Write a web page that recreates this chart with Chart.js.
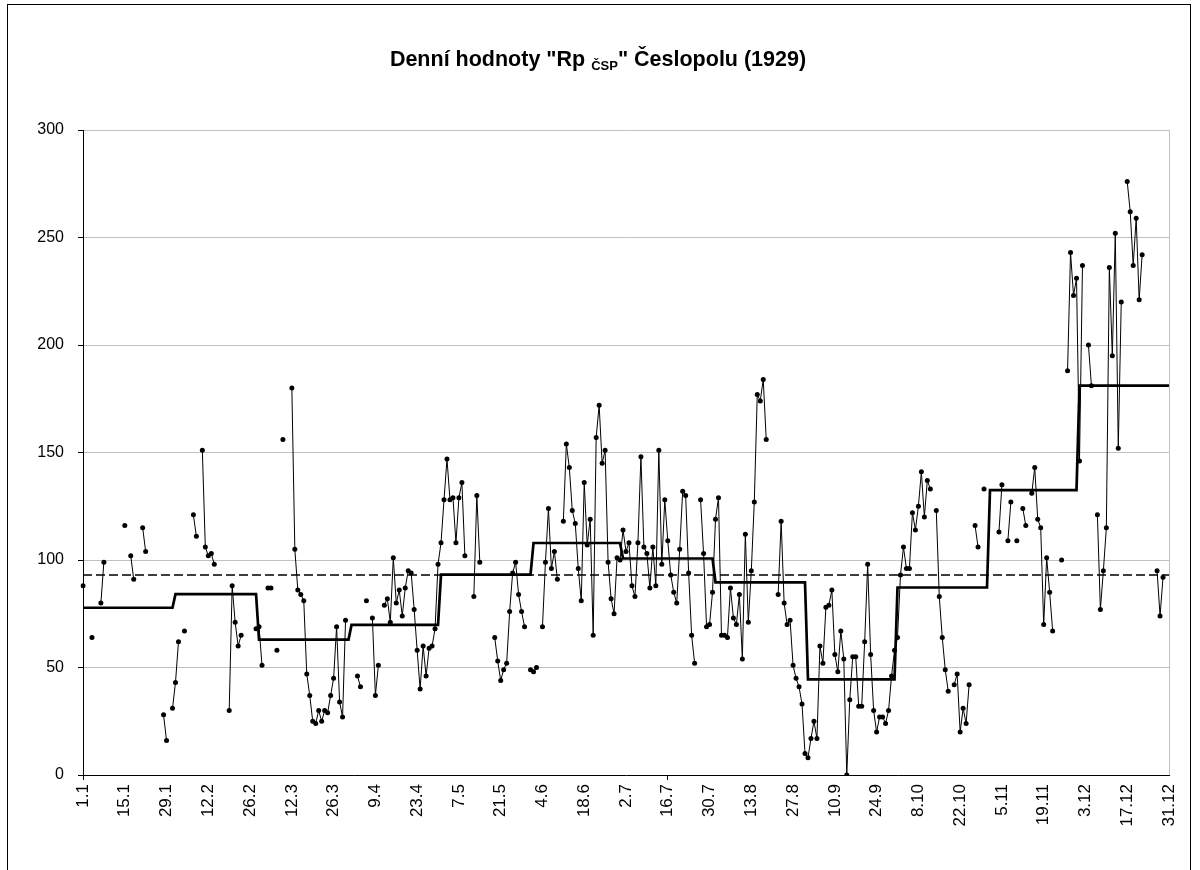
<!DOCTYPE html>
<html>
<head>
<meta charset="utf-8">
<script src="https://cdn.jsdelivr.net/npm/chart.js@4.4.1/dist/chart.umd.min.js"></script>
<style>
html,body{margin:0;padding:0;background:#fff;}
#wrap{position:absolute;left:0;top:0;width:1200px;height:870px;}
canvas{display:block;}
</style>
</head>
<body>
<div id="wrap"><canvas id="c" width="1200" height="870"></canvas></div>
<script>
// ---- data (1929, daily values, null = missing) ----
const monthLengths = [31,28,31,30,31,30,31,31,30,31,30,31];
const tickLabels = ['1.1','15.1','29.1','12.2','26.2','12.3','26.3','9.4','23.4','7.5','21.5','4.6','18.6','2.7','16.7','30.7','13.8','27.8','10.9','24.9','8.10','22.10','5.11','19.11','3.12','17.12','31.12'];
const titleParts = ['Denní hodnoty "Rp ', 'ČSP', '" Česlopolu (1929)'];

const jan = [88,null,null,64,null,null,80,99,null,null, null,null,null,null,116,null,102,91,null,null, 115,104,null,null,null,null,null,28,16,null, 31];
const feb = [43,62,null,67,null,null,121,111,null,151, 106,102,103,98,null,null,null,null,30,88, 71,60,65,null,null,null,null,68];
const mar = [69,51,null,87,87,null,58,null,156,null, null,180,105,86,84,81,47,37,25,24, 30,25,30,29,37,45,69,34,27,72, null];
const apr = [null,null,46,41,null,81,null,73,37,51, null,79,82,71,101,80,86,74,87,95, 94,77,58,40,60,46,59,60,68,98];
const may = [108,128,147,128,129,108,129,136,102,null, null,83,130,99,null,null,null,null,64,53, 44,49,52,76,94,99,84,76,69,null, 49];
const jun = [48,50,null,69,99,124,96,104,91,null, 118,154,143,123,117,96,81,136,107,119, 65,157,172,145,151,99,82,75,101,100];
const jul = [114,104,108,88,83,108,148,106,103,87, 106,88,151,98,128,109,93,85,80,105, 132,130,94,65,52,null,128,103,69,70, 85];
const aug = [119,129,65,65,64,87,73,70,84,54, 112,71,95,127,177,174,184,156,null,null, null,84,118,80,70,72,51,45,41,33, 10];
const sep = [8,17,25,17,60,52,78,79,86,56, 48,67,54,0,35,55,55,32,32,62, 98,56,30,20,27,27,24,30,46,58];
const oct = [64,93,106,96,96,122,114,125,141,120, 137,133,null,123,83,64,49,39,null,42, 47,20,31,24,42,null,116,106,null,133, null];
const nov = [null,null,null,113,135,null,109,127,null,109, null,124,116,null,131,143,119,115,70,101, 85,67,null,null,100,null,188,243,223,231];
const dec = [146,237,null,200,181,null,121,77,95,115, 236,195,252,152,220,null,276,262,237,259, 221,242,null,null,null,null,95,74,92,null, null];

const monthlyMeans = [77.8, 84.1, 63.0, 69.8, 93.2, 107.9, 100.7, 89.6, 44.5, 87.2, 132.5, 181.1];
const yearlyMean = 93;

// ---- tables built from the arrays above ----
const categories = [];
monthLengths.forEach((n, m) => { for (let d = 1; d <= n; d++) categories.push(d + '.' + (m + 1)); });
const daily = [].concat(jan, feb, mar, apr, may, jun, jul, aug, sep, oct, nov, dec);
const monthlyLine = [];
monthLengths.forEach((n, m) => { for (let d = 0; d < n; d++) monthlyLine.push(monthlyMeans[m]); });
const yearlyLine = categories.map(() => yearlyMean);

const FONT = '"Liberation Sans", Arial, sans-serif';

const titlePlugin = {
  id: 'titleSub',
  afterDraw(chart) {
    const ctx = chart.ctx;
    ctx.save();
    ctx.fillStyle = '#000';
    ctx.textBaseline = 'alphabetic';
    const big = 'bold 21.5px ' + FONT, small = 'bold 13px ' + FONT;
    const parts = [[titleParts[0], big, 0], [titleParts[1], small, 4], [titleParts[2], big, 0]];
    let w = 0;
    parts.forEach(p => { ctx.font = p[1]; w += ctx.measureText(p[0]).width; });
    let x = 598 - w / 2;
    const y = 66;
    parts.forEach(p => { ctx.font = p[1]; ctx.fillText(p[0], x, y + p[2]); x += ctx.measureText(p[0]).width; });
    ctx.restore();
  }
};

const framePlugin = {
  id: 'frame',
  afterDraw(chart) {
    const ctx = chart.ctx, a = chart.chartArea;
    ctx.save();
    ctx.strokeStyle = '#c0c0c0';
    ctx.lineWidth = 1;
    ctx.beginPath();
    ctx.moveTo(Math.round(a.right) + 0.5, a.top);
    ctx.lineTo(Math.round(a.right) + 0.5, a.bottom);
    ctx.stroke();
    ctx.strokeStyle = '#000';
    ctx.strokeRect(7.5, 4.5, 1183, 1000);
    ctx.restore();
  }
};

new Chart(document.getElementById('c'), {
  type: 'line',
  data: {
    labels: categories,
    datasets: [
      { label: 'denní hodnoty', data: daily, borderColor: '#000', backgroundColor: '#000',
        borderWidth: 1, pointRadius: 2.5, pointHoverRadius: 2.5, pointBorderWidth: 0, spanGaps: false, order: 0 },
      { label: 'měsíční průměr', data: monthlyLine, borderColor: '#000', borderWidth: 2.7,
        pointRadius: 0, order: 1 },
      { label: 'roční průměr', data: yearlyLine, borderColor: '#000', borderWidth: 1.4, borderDash: [9, 4],
        pointRadius: 0, order: 2 }
    ]
  },
  options: {
    responsive: false,
    animation: false,
    devicePixelRatio: 1,
    layout: { padding: { left: 0, right: 31, top: 130, bottom: 0 } },
    plugins: { legend: { display: false }, tooltip: { enabled: false }, title: { display: false } },
    elements: { line: { tension: 0 } },
    scales: {
      x: {
        type: 'category',
        offset: false,
        grid: { display: true, drawOnChartArea: false, drawTicks: true, tickLength: 5,
                color: (c) => (c.index % 14 === 0 ? '#000' : 'rgba(0,0,0,0)'), lineWidth: 1 },
        border: { display: true, color: '#000', width: 1 },
        ticks: { autoSkip: false, maxRotation: 90, minRotation: 90, padding: 4, color: '#000',
                 font: { family: FONT, size: 17 },
                 callback: (v, i) => (i % 14 === 0 ? tickLabels[i / 14] : null) },
        afterFit: (s) => { s.height = 95; }
      },
      y: {
        min: 0, max: 300,
        ticks: { stepSize: 50, padding: 14, color: '#000', font: { family: FONT, size: 16 } },
        grid: { color: '#c0c0c0', tickColor: '#000', tickLength: 5, lineWidth: 1 },
        border: { display: true, color: '#000', width: 1 },
        afterFit: (s) => { s.width = 83; }
      }
    }
  },
  plugins: [titlePlugin, framePlugin]
});
</script>
</body>
</html>
